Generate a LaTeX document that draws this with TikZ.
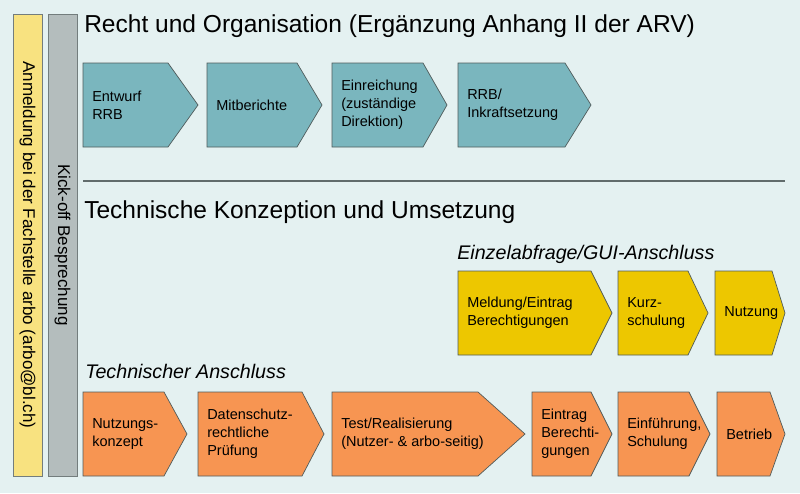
\documentclass[tikz,border=0pt]{standalone}
\usepackage{fontspec}
\setmainfont{Liberation Sans}
\definecolor{bgcol}{RGB}{228,241,241}
\definecolor{barYellow}{RGB}{248,226,128}
\definecolor{barGrey}{RGB}{180,189,189}
\definecolor{chevTeal}{RGB}{122,182,190}
\definecolor{chevYellow}{RGB}{237,199,0}
\definecolor{chevOrange}{RGB}{247,149,82}
\definecolor{edgeGrey}{RGB}{80,92,92}

\newcommand{\chevron}[8]{%
  \filldraw[chev,fill=#7] (#2,#5) -- (#3,#5) -- (#4,{(#5+#6)/2}) -- (#3,#6) -- (#2,#6) -- cycle;
  \node[chevtext] (#1) at (#2+9,{(#5+#6)/2}) {#8};
}

\begin{document}
\begin{tikzpicture}[
  x=0.025cm,y=-0.025cm,
  chev/.style={draw=edgeGrey,line width=0.5pt},
  chevtext/.style={anchor=west,inner sep=0pt,align=left,font=\fontsize{10.3}{12.8}\selectfont},
  bar/.style={draw=edgeGrey!80,line width=0.5pt},
  bartext/.style={rotate=-90,font=\fontsize{12.1}{14}\selectfont},
  heading/.style={anchor=base west,inner sep=0pt,font=\fontsize{17.45}{20}\selectfont},
  subheading/.style={anchor=base west,inner sep=0pt,font=\fontsize{14}{16}\selectfont\itshape}
]
  \useasboundingbox (0,0) rectangle (800,493);
  \fill[bgcol] (0,0) rectangle (800,493);

  \filldraw[bar,fill=barYellow] (13,14) rectangle (42,476);
  \node[bartext] (anmeldung) at (27.5,245) {Anmeldung bei der Fachstelle arbo (arbo@bl.ch)};
  \filldraw[bar,fill=barGrey] (48,14) rectangle (77,476);
  \node[bartext] (kickoff) at (62.5,245) {Kick-off Besprechung};

  \node[heading] (recht) at (84,32) {Recht und Organisation (Ergänzung Anhang II der ARV)};
  \chevron{entwurf}{83}{168}{198}{63}{147}{chevTeal}{Entwurf\\RRB}
  \chevron{mitberichte}{207}{297}{322}{63}{147}{chevTeal}{Mitberichte}
  \chevron{einreichung}{332}{423}{447}{63}{147}{chevTeal}{Einreichung\\(zuständige\\Direktion)}
  \chevron{inkraft}{458}{565}{591}{63}{147}{chevTeal}{RRB/\\Inkraftsetzung}

  \draw[edgeGrey!90,line width=0.8pt] (83,181) -- (785,181);

  \node[heading] (technik) at (84,218) {Technische Konzeption und Umsetzung};

  \node[subheading] (gui) at (457,259) {Einzelabfrage/GUI-Anschluss};
  \chevron{meldung}{458}{591}{612}{271}{355}{chevYellow}{Meldung/Eintrag\\Berechtigungen}
  \chevron{kurzschulung}{618}{688}{708}{271}{355}{chevYellow}{Kurz-\\schulung}
  \chevron{nutzung}{715}{772}{785}{271}{355}{chevYellow}{Nutzung}

  \node[subheading] (anschluss) at (85,378) {Technischer Anschluss};
  \chevron{konzept}{83}{164}{187}{392}{476}{chevOrange}{Nutzungs-\\konzept}
  \chevron{datenschutz}{198}{302}{324}{392}{476}{chevOrange}{Datenschutz-\\rechtliche\\Prüfung}
  \chevron{test}{332}{478}{525}{392}{476}{chevOrange}{Test/Realisierung\\(Nutzer- \& arbo-seitig)}
  \chevron{eintrag}{532}{591}{612}{392}{476}{chevOrange}{Eintrag\\Berechti-\\gungen}
  \chevron{einfuehrung}{618}{689}{710}{392}{476}{chevOrange}{Einführung,\\Schulung}
  \chevron{betrieb}{717}{770}{785}{392}{476}{chevOrange}{Betrieb}
\end{tikzpicture}
\end{document}
